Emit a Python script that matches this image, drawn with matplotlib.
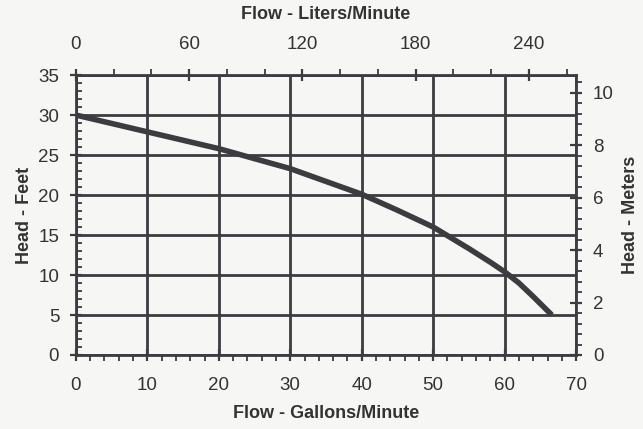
import matplotlib
matplotlib.use("Agg")
import matplotlib.pyplot as plt
from matplotlib.ticker import MultipleLocator

# pump curve (gallons/minute vs head in feet)
flow_gpm = [0, 10, 20, 30, 40, 45, 50, 55, 58, 60, 62, 64, 66.6]
head_ft = [30, 27.9, 25.8, 23.3, 20.1, 18.1, 16.0, 13.3, 11.6, 10.4, 9.0, 7.3, 5.0]

gpm_ticks = [0, 10, 20, 30, 40, 50, 60, 70]
ft_ticks = [0, 5, 10, 15, 20, 25, 30, 35]
lpm_ticks = [0, 60, 120, 180, 240]
m_ticks = [0, 2, 4, 6, 8, 10]

L_PER_GAL = 3.785
M_PER_FT = 0.3048

ink = "#3c3b40"
txt = "#333333"
paper = "#f6f6f4"

plt.rcParams["font.family"] = ["Liberation Sans", "DejaVu Sans"]

fig = plt.figure(figsize=(6.43, 4.29), dpi=100, facecolor=paper)
ax = fig.add_axes([0.118, 0.1725, 0.778, 0.6525])
ax.set_facecolor(paper)

ax.plot(flow_gpm, head_ft, color=ink, lw=4, solid_capstyle="butt",
        solid_joinstyle="round", zorder=3)

ax.set_xlim(0, 70)
ax.set_ylim(0, 35)
ax.set_xticks(gpm_ticks)
ax.set_yticks(ft_ticks)
ax.xaxis.set_minor_locator(MultipleLocator(2))
ax.yaxis.set_minor_locator(MultipleLocator(1))
ax.grid(True, which="major", color=ink, lw=2)
for s in ax.spines.values():
    s.set_color(ink)
    s.set_linewidth(2)

ax.tick_params(which="major", direction="inout", length=8, width=1.6, color=ink,
               labelsize=13.5, labelcolor=txt, pad=12)
ax.tick_params(axis="y", which="major", pad=8)
ax.tick_params(axis="x", which="minor", direction="out", length=4, width=1.3, color=ink)
ax.tick_params(axis="y", which="minor", direction="in", length=4, width=1.3, color=ink)

ax.set_xlabel("Flow - Gallons/Minute", fontsize=13, fontweight="bold", color=txt, labelpad=8)
ax.set_ylabel("Head - Feet", fontsize=13, fontweight="bold", color=txt, labelpad=4)

top = ax.secondary_xaxis("top", functions=(lambda g: g * L_PER_GAL, lambda l: l / L_PER_GAL))
top.set_xticks(lpm_ticks)
top.xaxis.set_minor_locator(MultipleLocator(20))
top.tick_params(which="major", direction="inout", length=8, width=1.6, color=ink,
                labelsize=13.5, labelcolor=txt, pad=12)
top.tick_params(which="minor", direction="out", length=4, width=1.3, color=ink)
top.set_xlabel("Flow - Liters/Minute", fontsize=13, fontweight="bold", color=txt, labelpad=12)
top.spines["top"].set_visible(False)

right = ax.secondary_yaxis("right", functions=(lambda f: f * M_PER_FT, lambda m: m / M_PER_FT))
right.set_yticks(m_ticks)
right.yaxis.set_minor_locator(MultipleLocator(0.4))
right.tick_params(which="major", direction="inout", length=8, width=1.6, color=ink,
                  labelsize=13.5, labelcolor=txt, pad=8)
right.tick_params(which="minor", direction="out", length=4, width=1.3, color=ink)
right.set_ylabel("Head - Meters", fontsize=13, fontweight="bold", color=txt, labelpad=6)
right.spines["right"].set_visible(False)

fig.savefig("out.png", dpi=100, facecolor=paper)
